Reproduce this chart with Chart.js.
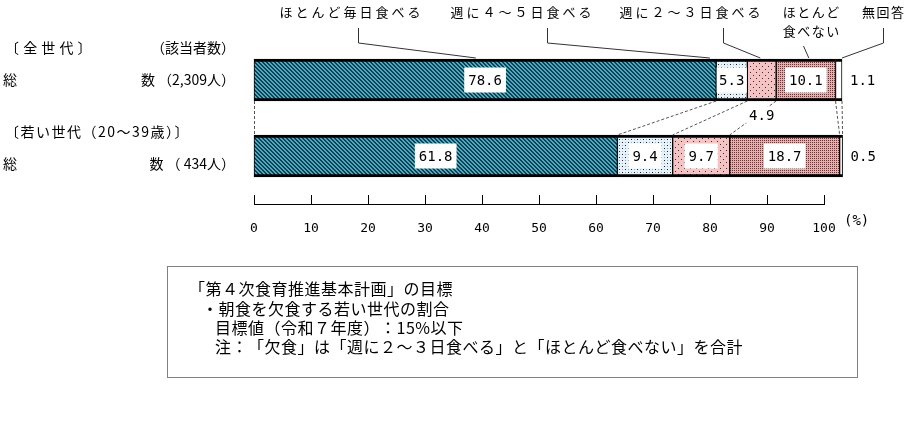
<!DOCTYPE html>
<html><head><meta charset="utf-8">
<script src="https://cdn.jsdelivr.net/npm/chart.js@4.4.1/dist/chart.umd.min.js"></script>
<style>
html,body{margin:0;padding:0;background:#fff;}
#wrap{position:relative;width:916px;height:429px;overflow:hidden;}
#c{position:absolute;left:0;top:0;}
#note{position:absolute;left:167px;top:266px;width:689px;height:110px;border:1px solid #808080;font-family:"Noto Sans CJK JP";font-size:16px;color:#000;letter-spacing:0.5px;font-kerning:none;text-spacing-trim:space-all;}
#note div{position:absolute;white-space:nowrap;line-height:20px;}
</style></head>
<body><div id="wrap"><canvas id="c" width="916" height="429"></canvas>
<div id="note">
<div style="left:21px;top:11px">「第４次食育推進基本計画」の目標</div>
<div style="left:34px;top:31px">・朝食を欠食する若い世代の割合</div>
<div style="left:47px;top:50px">目標値（令和７年度）：15%以下</div>
<div style="left:47px;top:69px">注：「欠食」は「週に２～３日食べる」と「ほとんど食べない」を合計</div>
</div></div>
<script>
// ---- data ----
const categories = ['全世代', '若い世代（20～39歳）'];
const rowHeaders = ['〔 全 世 代 〕', '〔若い世代（20～39歳）〕'];
const countHeader = '（該当者数）';
const rowLabelLeft = ['総', '総'];
const rowLabelRight = ['数 （2,309人）', '数 （ 434人）'];
const seriesNames = ['ほとんど毎日食べる', '週に４～５日食べる', '週に２～３日食べる', 'ほとんど\n食べない', '無回答'];
const almostDaily = [78.6, 61.8];
const fourFiveDays = [5.3, 9.4];
const twoThreeDays = [4.9, 9.7];
const almostNever = [10.1, 18.7];
const noAnswer = [1.1, 0.5];
const tickValues = [0, 10, 20, 30, 40, 50, 60, 70, 80, 90, 100];
const unitLabel = '(%)';

const seriesData = [almostDaily, fourFiveDays, twoThreeDays, almostNever, noAnswer];

// ---- fills ----
const mainCtx = document.getElementById('c').getContext('2d');
function makePattern(size, bg, fn) {
  const c = document.createElement('canvas'); c.width = size; c.height = size;
  const g = c.getContext('2d'); g.fillStyle = bg; g.fillRect(0, 0, size, size);
  for (let y = 0; y < size; y++) for (let x = 0; x < size; x++) {
    const col = fn(x, y); if (col) { g.fillStyle = col; g.fillRect(x, y, 1, 1); }
  }
  return mainCtx.createPattern(c, 'repeat');
}
const fills = [
  makePattern(4, '#3fb2bc', (x, y) => (((x - y) % 4 + 4) % 4) < 2 ? '#1c3a58' : null),
  makePattern(6, '#e4f2fc', (x, y) => (x === 1 && y === 1) || (x === 4 && y === 4) ? '#222' : ((x === 4 && y === 1) || (x === 1 && y === 4) ? '#7fb0dc' : null)),
  makePattern(6, '#f6c2c2', (x, y) => (x === 0 && y === 0) || (x === 3 && y === 3) ? '#333' : null),
  makePattern(2, '#eeaaaa', (x, y) => (x === 0 && y === 0) ? '#6a3434' : null),
  '#ffffff'
];

// ---- annotations ----
const callouts = [
  {cx: 350, ty: 12, path: [[358, 28], [358, 43]], frac: 0.48, spacing: 3},
  {cx: 521, ty: 12, path: [[547, 28], [547, 43]], frac: -0.2, spacing: 3},
  {cx: 690, ty: 12, path: [[723, 28], [723, 43]], frac: 0.45, spacing: 3},
  {cx: 811, ty: 12, path: [[803, 46]], frac: 0.55, spacing: 1.5},
  {cx: 883, ty: 12, path: [[883, 28], [883, 43]], frac: 1, spacing: 1.5}
];

const annot = {
  id: 'annot',
  afterDraw(chart) {
    const ctx = chart.ctx;
    const ys = chart.scales.y, xt = chart.scales.xt;
    const metas = seriesData.map((_, i) => chart.getDatasetMeta(i));
    const seg = (d, r) => {
      const p = metas[d].data[r].getProps(['x', 'y', 'base', 'height'], true);
      return {l: Math.min(p.x, p.base), r: Math.max(p.x, p.base), y: p.y, h: p.height};
    };
    const line = (x1, y1, x2, y2) => { ctx.beginPath(); ctx.moveTo(x1, y1); ctx.lineTo(x2, y2); ctx.stroke(); };
    ctx.save();
    ctx.fontKerning = 'none';

    // connectors between bars
    ctx.strokeStyle = '#555'; ctx.lineWidth = 1; ctx.setLineDash([3, 2]);
    const t0 = seg(0, 0), b0 = seg(0, 1);
    line(t0.l + 0.5, t0.y + t0.h / 2, b0.l + 0.5, b0.y - b0.h / 2);
    for (let d = 0; d < seriesData.length; d++) {
      const t = seg(d, 0), b = seg(d, 1);
      line(t.r, t.y + t.h / 2, b.r, b.y - b.h / 2);
    }
    ctx.setLineDash([]);

    // value labels
    ctx.font = '14px "DejaVu Sans Mono"';
    ctx.textBaseline = 'middle'; ctx.textAlign = 'center';
    for (let r = 0; r < categories.length; r++) {
      for (let d = 0; d < seriesData.length; d++) {
        const s = seg(d, r); const v = seriesData[d][r]; const txt = v.toFixed(1);
        const w = ctx.measureText(txt).width;
        if (d === seriesData.length - 1) {
          ctx.fillStyle = '#000'; ctx.textAlign = 'left';
          ctx.fillText(txt, s.r + 8, s.y + 1);
          ctx.textAlign = 'center';
        } else if (v < 5) {
          const cx = (s.l + s.r) / 2, cy = s.y + s.h / 2 + 14;
          ctx.fillStyle = '#fff'; ctx.fillRect(cx - w / 2 - 3, cy - 8, w + 6, 16);
          ctx.fillStyle = '#000'; ctx.fillText(txt, cx, cy + 1);
        } else {
          const cx = (s.l + s.r) / 2;
          const bw = Math.min(w + 8, s.r - s.l - 1);
          ctx.fillStyle = '#fff'; ctx.fillRect(cx - bw / 2, s.y - 12.5, bw, 25);
          ctx.fillStyle = '#000'; ctx.fillText(txt, cx, s.y + 1);
        }
      }
    }

    // legend callouts
    ctx.font = '13px "Noto Sans CJK JP"';
    ctx.strokeStyle = '#333'; ctx.lineWidth = 1; ctx.fillStyle = '#000';
    callouts.forEach((c, i) => {
      const lines = seriesNames[i].split('\n');
      ctx.letterSpacing = c.spacing + 'px';
      lines.forEach((t, k) => ctx.fillText(t, c.cx + c.spacing / 2, c.ty + k * 19));
      const s = seg(i, 0);
      const ax = s.l + (s.r - s.l) * c.frac, ay = s.y - s.h / 2 - 1;
      ctx.beginPath();
      ctx.moveTo(c.path[0][0] + 0.5, c.path[0][1]);
      for (let k = 1; k < c.path.length; k++) ctx.lineTo(c.path[k][0] + 0.5, c.path[k][1]);
      ctx.lineTo(ax, ay);
      ctx.stroke();
    });
    ctx.letterSpacing = '0px';

    // row labels
    ctx.font = '14px "Noto Sans CJK JP"';
    const hOff = [-32, -24], lOff = [0, 8], hSpace = [0.5, 1.5];
    for (let r = 0; r < categories.length; r++) {
      const yc = ys.getPixelForValue(r);
      ctx.textAlign = 'left';
      ctx.letterSpacing = hSpace[r] + 'px';
      ctx.fillText(rowHeaders[r], 5, yc + hOff[r]);
      ctx.letterSpacing = '0px';
      ctx.fillText(rowLabelLeft[r], 3, yc + lOff[r]);
      ctx.textAlign = 'right';
      if (r === 0) ctx.fillText(countHeader, 235, yc + hOff[r]);
      ctx.fillText(rowLabelRight[r], 235, yc + lOff[r]);
    }

    // axis line and tick marks
    ctx.strokeStyle = '#000'; ctx.lineWidth = 1;
    const axY = xt.top + 10;
    ctx.beginPath();
    ctx.moveTo(Math.round(xt.getPixelForValue(0)), axY + 0.5);
    ctx.lineTo(Math.round(xt.getPixelForValue(100)) + 1, axY + 0.5);
    tickValues.forEach(v => {
      const px = Math.round(xt.getPixelForValue(v)) + 0.5;
      ctx.moveTo(px, xt.top + 1); ctx.lineTo(px, axY + 1);
    });
    ctx.stroke();
    ctx.font = '14px "DejaVu Sans Mono"'; ctx.textAlign = 'left'; ctx.textBaseline = 'middle';
    ctx.fillText(unitLabel, xt.getPixelForValue(100) + 20, xt.top + 27);
    ctx.restore();
  }
};

new Chart(document.getElementById('c'), {
  type: 'bar',
  data: {
    labels: categories,
    datasets: seriesData.map((d, i) => ({
      label: seriesNames[i], data: d, backgroundColor: fills[i],
      borderColor: '#000', borderWidth: {top: 3, bottom: 3, left: 1, right: 1},
      borderSkipped: false, barThickness: 42, xAxisID: 'x', yAxisID: 'y', clip: false
    }))
  },
  options: {
    indexAxis: 'y', responsive: false, animation: false, devicePixelRatio: 1,
    layout: {padding: {left: 254, right: 74, top: 42, bottom: 195}},
    plugins: {legend: {display: false}, tooltip: {enabled: false}},
    scales: {
      y: {type: 'category', display: false, offset: true, stacked: true},
      x: {type: 'linear', min: 0, max: 100, display: false, stacked: true},
      xt: {
        type: 'linear', position: 'bottom', min: 0, max: 100 * 588 / 570,
        grid: {display: false}, border: {display: false},
        afterBuildTicks: s => { s.ticks = tickValues.map(v => ({value: v})); },
        afterFit: s => { s.height = 40; },
        ticks: {font: {family: 'DejaVu Sans Mono', size: 13}, color: '#000', padding: 19, maxRotation: 0, autoSkip: false}
      }
    }
  },
  plugins: [annot]
});
</script>
</body></html>
